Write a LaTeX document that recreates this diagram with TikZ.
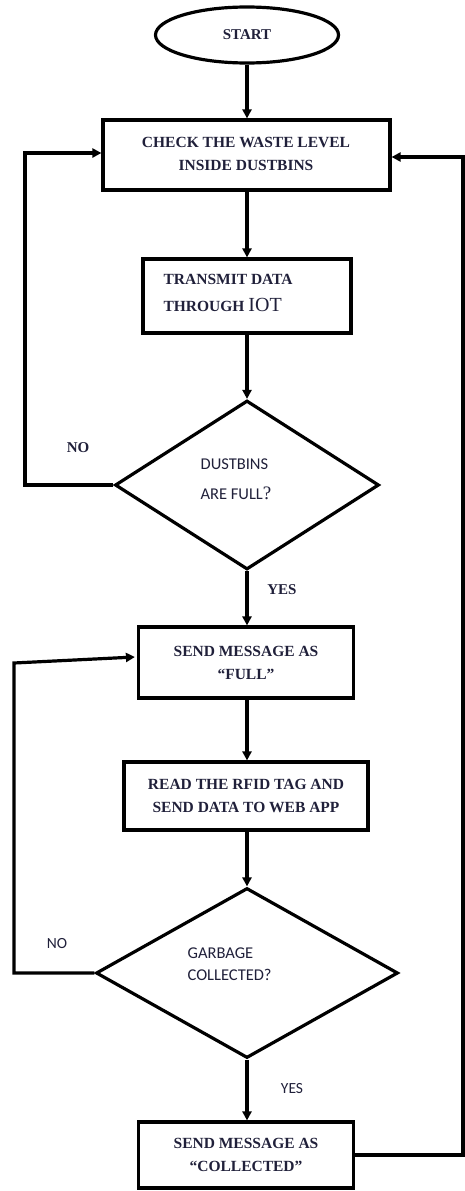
\documentclass[tikz,border=0pt]{standalone}
\usepackage{fontspec}
\setmainfont{Liberation Serif}
\newfontfamily\calfont{Carlito}
\usetikzlibrary{shapes.geometric,arrows.meta,calc}
\definecolor{txt}{RGB}{32,32,58}
\begin{document}
\begin{tikzpicture}[x=1pt,y=-1pt,
  line width=3.2pt,
  box/.style={draw, rectangle, inner sep=0pt, font=\fontsize{15.5}{23}\selectfont\bfseries, text=txt, align=center},
  dia/.style={draw, diamond, inner sep=0pt},
  diatext/.style={anchor=west, inner sep=0pt, align=left, text=txt, font=\calfont\fontsize{16.5}{30}\selectfont},
  lab/.style={inner sep=0pt, text=txt, font=\fontsize{15}{18}\selectfont\bfseries},
  labs/.style={inner sep=0pt, text=txt, font=\calfont\fontsize{15.5}{18}\selectfont},
  arr/.style={-{Triangle[length=9pt,width=9pt]}}
]
\useasboundingbox (0,0) rectangle (465,1191);

\node[draw, ellipse, minimum width=183, minimum height=56, inner sep=0pt, text=txt, font=\fontsize{15}{18}\selectfont\bfseries] (start) at (247,35) {START};

\node[box, minimum width=287, minimum height=70] (check) at (246.5,155) {};
\node[inner sep=0pt, align=center, text=txt, font=\fontsize{15.5}{23}\selectfont\bfseries] (checkt) at (246,153.5) {CHECK THE WASTE LEVEL\\INSIDE DUSTBINS};

\node[box, minimum width=208, minimum height=74] (trans) at (247,296) {};
\node[inner sep=0pt, anchor=west, align=left, text=txt, font=\fontsize{15.5}{27}\selectfont\bfseries] (transt) at (162,293) {TRANSMIT DATA\\THROUGH {\mdseries\fontsize{20}{27}\selectfont IOT}};

\node[dia, minimum width=264, minimum height=169] (d1) at (247,485) {};
\node[diatext] (d1t) at (199,479) {DUSTBINS\\ARE FULL{\rmfamily\fontsize{19}{30}\selectfont ?}};

\node[box, minimum width=215, minimum height=71] (send1) at (246,662.5) {SEND MESSAGE AS\\“FULL”};

\node[box, minimum width=244, minimum height=68] (read) at (246,796) {READ THE RFID TAG AND\\SEND DATA TO WEB APP};

\node[dia, minimum width=302, minimum height=170] (d2) at (247,973) {};
\node[diatext, font=\calfont\fontsize{16.5}{22}\selectfont] (d2t) at (186,964) {GARBAGE\\COLLECTED?};

\node[box, minimum width=215, minimum height=66] (send2) at (246,1155) {SEND MESSAGE AS\\“COLLECTED”};

\node[lab] (no1) at (78,448) {NO};
\node[lab] (yes1) at (282,590) {YES};
\node[labs] (no2) at (57,944) {NO};
\node[labs] (yes2) at (292,1089) {YES};

\coordinate (l1) at (25,153);
\coordinate (l2) at (14,663);
\coordinate (r1) at (463,157);

\draw[arr] (start.south) -- (check.north -| start.south);
\draw[arr] (check.south -| start.south) -- (trans.north -| start.south);
\draw[arr] (trans.south -| start.south) -- (d1.north);
\draw[arr] (d1.south) -- (send1.north -| d1.south);
\draw[arr] (send1.south -| d1.south) -- (read.north -| d1.south);
\draw[arr] (read.south -| d1.south) -- (d2.north);
\draw[arr] (d2.south) -- (send2.north -| d2.south);
\draw[arr] (d1.west) -| (l1) -- (check.west |- l1);
\draw[arr] (d2.west) -| (l2) -- ($(send1.west)+(-2,-5.5)$);
\draw[arr] (send2.east) -| (r1) -- (check.east |- r1);
\end{tikzpicture}
\end{document}
